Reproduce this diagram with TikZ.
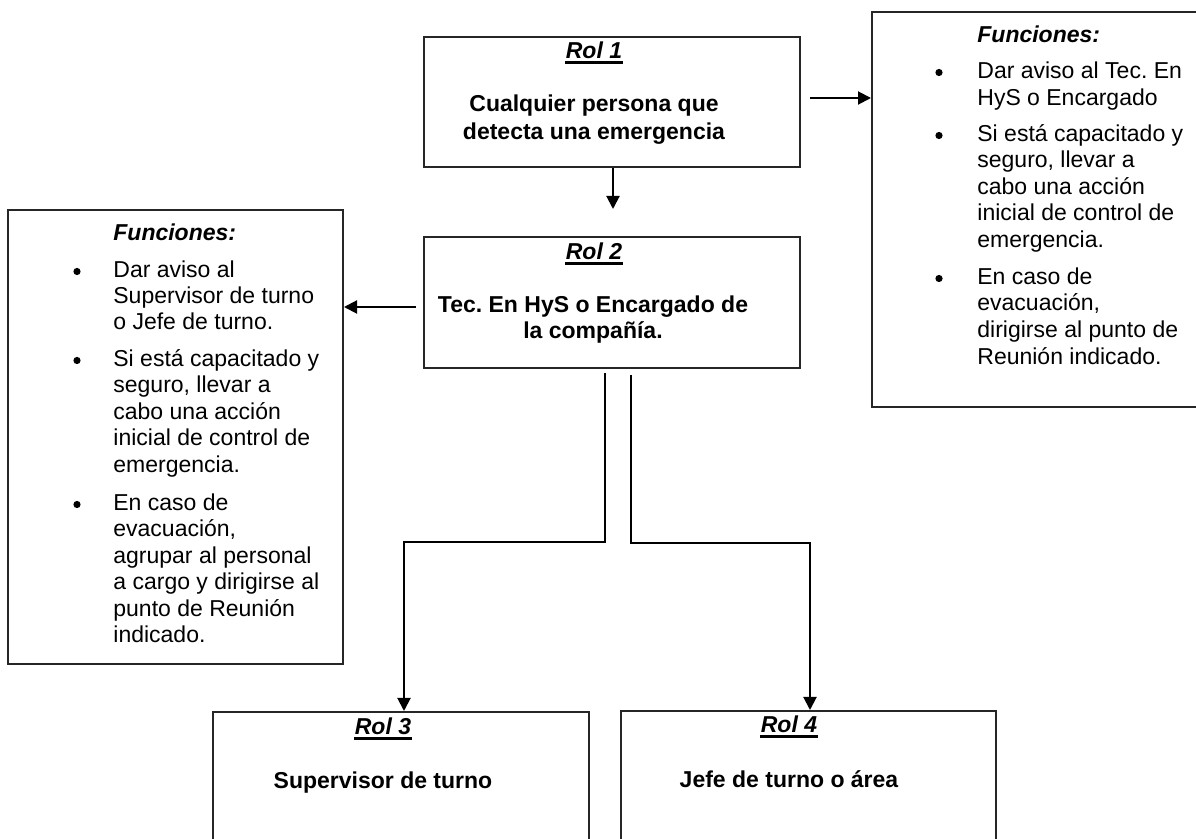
\documentclass[tikz,border=0pt]{standalone}
\usepackage{fontspec}
\setmainfont{Liberation Sans}
\usetikzlibrary{arrows.meta,fit}
\frenchspacing
\newcommand\fsz{\fontsize{11.5}{13.25}\selectfont\frenchspacing}
\begin{document}
\begin{tikzpicture}[x=0.5pt,y=-0.5pt,
  box/.style={draw=black!85, line width=1pt, inner sep=0pt},
  txt/.style={anchor=base west, inner sep=0pt, font=\fsz},
  ctxt/.style={anchor=base, inner sep=0pt, font=\fsz\bfseries},
  rol/.style={anchor=base, inner sep=0pt, font=\fsz\bfseries\itshape},
  fhead/.style={anchor=base west, inner sep=0pt, font=\fsz\bfseries\itshape},
  bul/.style={circle, fill=black, inner sep=0pt, minimum size=3.6pt},
  conn/.style={draw=black, line width=1pt, -{Triangle[length=6.5pt,width=6.5pt]}},
  uline/.style={line width=1.25pt}
]
\useasboundingbox (0,0) rectangle (1196,839);
\fill[white] (0,0) rectangle (1196,839);
\clip (0,0) rectangle (1196,839);

% boxes
\node[box, fit={(424,37) (800,167)}] (r1) {};
\node[box, fit={(424,237) (800,368)}] (r2) {};
\node[box, fit={(8,210) (343,664)}] (fl) {};
\node[box, fit={(872,12) (1215,407)}] (fr) {};
\node[box, fit={(213,712) (589,870)}] (r3) {};
\node[box, fit={(621,711) (996,870)}] (r4) {};

% role labels
\node[rol] (r1l) at (594,59) {Rol 1};
\node[rol] (r2l) at (594,260) {Rol 2};
\node[rol] (r3l) at (383,735) {Rol 3};
\node[rol] (r4l) at (789,733) {Rol 4};
\foreach \n in {r1l,r2l,r3l,r4l}
  \draw[uline] ([yshift=-1.8pt]\n.base west) -- ([yshift=-1.8pt]\n.base east);

% role texts
\node[ctxt] (r1a) at (594,112) {Cualquier persona que};
\node[ctxt] (r1b) at (594,140) {detecta una emergencia};
\node[ctxt] (r2a) at (593,313) {Tec. En HyS o Encargado de};
\node[ctxt] (r2b) at (593,339) {la compañía.};
\node[ctxt] (r3a) at (383,789) {Supervisor de turno};
\node[ctxt] (r4a) at (789,788) {Jefe de turno o área};

% left functions
\node[fhead] (flh) at (113,241) {Funciones:};
\foreach \t/\y [count=\i] in {{Dar aviso al}/278, {Supervisor de turno}/304, {o Jefe de turno.}/330,
  {Si está capacitado y}/367, {seguro, llevar a}/393, {cabo una acción}/420, {inicial de control de}/446, {emergencia.}/473,
  {En caso de}/511, {evacuación,}/537, {agrupar al personal}/564, {a cargo y dirigirse al}/590, {punto de Reunión}/617, {indicado.}/643}
  \node[txt] (fl\i) at (113,\y) {\t};
\foreach \y [count=\i] in {278,367,511}
  \node[bul] (flb\i) at (77,\y-6.5) {};

% right functions
\node[fhead] (frh) at (977,43) {Funciones:};
\foreach \t/\y [count=\i] in {{Dar aviso al Tec. En}/79, {HyS o Encargado}/106,
  {Si está capacitado y}/142, {seguro, llevar a}/168, {cabo una acción}/195, {inicial de control de}/221, {emergencia.}/248,
  {En caso de}/285, {evacuación,}/311, {dirigirse al punto de}/338, {Reunión indicado.}/365}
  \node[txt] (fr\i) at (977,\y) {\t};
\foreach \y [count=\i] in {79,142,285}
  \node[bul] (frb\i) at (939,\y-6.5) {};

% connector end points
\coordinate (a12) at (613,209);
\coordinate (c1r) at (810,98);
\coordinate (c2l) at (416,307);
\coordinate (c23) at (605,373);
\coordinate (k3) at (404,542);
\coordinate (c24) at (631,375);
\coordinate (k4) at (810,543);

% connectors
\draw[conn] (r1.south -| a12) -- (a12);
\draw[conn] (c1r) -- (fr.west |- c1r);
\draw[conn] (c2l) -- (fl.east |- c2l);
\draw[conn] (c23) |- (k3) -- (k3 |- r3.north);
\draw[conn] (c24) |- (k4) -- (k4 |- r4.north);
\end{tikzpicture}
\end{document}
